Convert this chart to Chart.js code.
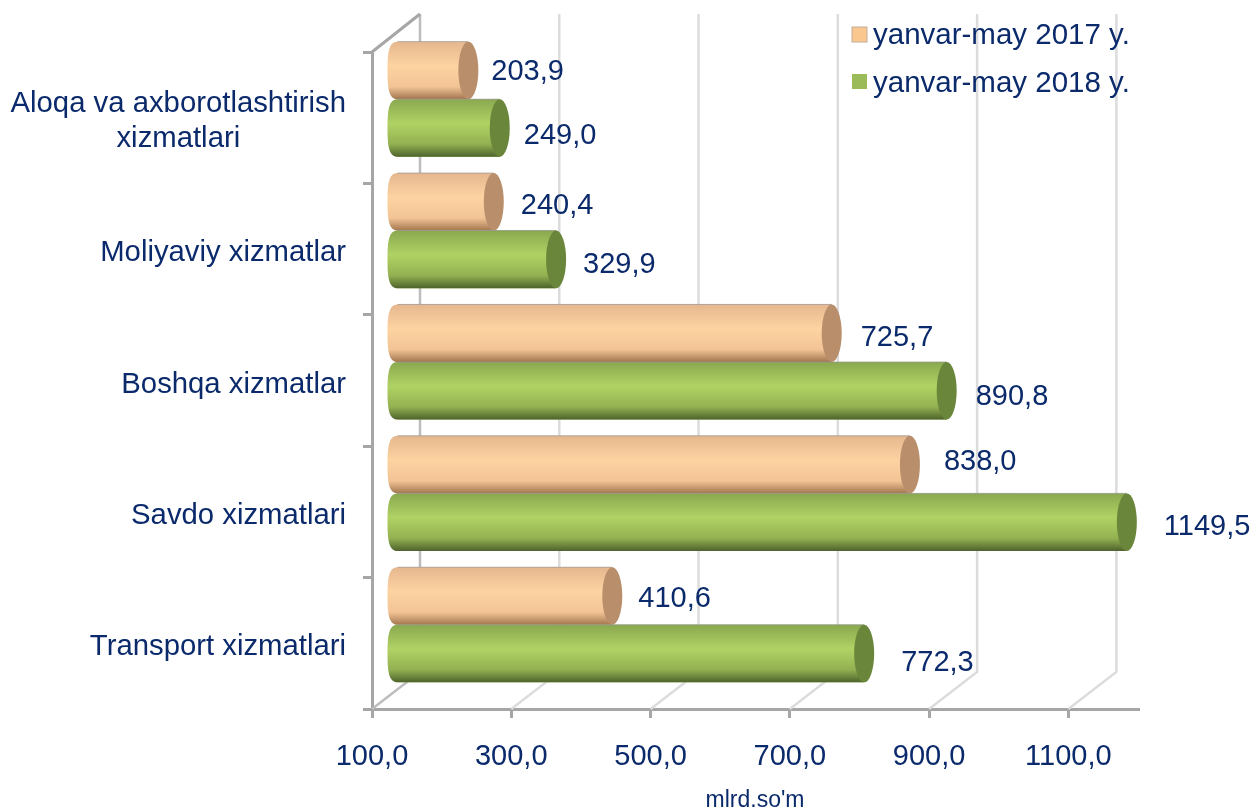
<!DOCTYPE html>
<html>
<head>
<meta charset="utf-8">
<title>Xizmatlar</title>
<script src="https://cdn.jsdelivr.net/npm/chart.js@4/dist/chart.umd.min.js"></script>
<style>
  html, body { margin: 0; padding: 0; background: #fff; }
  canvas { display: block; }
</style>
</head>
<body>
<canvas id="chart" width="1254" height="812"></canvas>
<script>
const categories = [
  ["Aloqa va axborotlashtirish", "xizmatlari             "],
  "Moliyaviy xizmatlar",
  "Boshqa xizmatlar",
  "Savdo xizmatlari",
  "Transport xizmatlari"
];
const seriesNames = ["yanvar-may 2017 y.", "yanvar-may 2018 y."];
const values2017 = [203.9, 240.4, 725.7, 838.0, 410.6];
const values2018 = [249.0, 329.9, 890.8, 1149.5, 772.3];
const xTickValues = [100, 300, 500, 700, 900, 1100];

// hand placed value labels in the original, so each one gets a small nudge
const nudge2017 = [[-6, 0], [-2, 2], [0, 3], [5, -5], [-3, 1]];
const nudge2018 = [[-5, 6], [-2, 4], [0, 4], [8, 3], [8, 7]];

const textColor = "#0b2a6b";
const axisColor = "#a6a6a6";
const depthX = 48, depthY = -37;   // fake 3D floor depth
const capRx = 10;

const looks = [
  { flat: "#fac78e", cap: "#b98f6b", stops: ["#e6b78e", "#fdd3a2", "#f3c496", "#a3764f"], nudge: nudge2017 },
  { flat: "#9bbb59", cap: "#6a863b", stops: ["#8aa84f", "#b0d264", "#93b151", "#4e632c"], nudge: nudge2018 }
];

function fmt(v) { return Number(v).toFixed(1).replace(".", ","); }

const cylinders = {
  id: "cylinders",
  beforeDatasetsDraw(chart) {
    const c = chart.ctx, x = chart.scales.x, area = chart.chartArea;
    const topY = area.top + depthY - 1;
    c.save();
    // back wall lines going up from each tick
    x.ticks.forEach((t, i) => {
      const px = x.getPixelForValue(t.value);
      c.beginPath();
      c.moveTo(px, area.bottom);
      c.lineTo(px + depthX, area.bottom + depthY);
      c.lineTo(px + depthX, topY);
      c.lineWidth = 2.5;
      c.strokeStyle = i === 0 ? "#bdbdbd" : "#dcdcdc";
      c.stroke();
    });
    c.beginPath();
    c.moveTo(area.left, area.top);
    c.lineTo(area.left + depthX, topY);
    c.lineWidth = 3;
    c.strokeStyle = axisColor;
    c.stroke();
    c.restore();

    // bars sit halfway into the depth
    c.save();
    c.translate(depthX / 2, depthY / 2);
  },
  afterDatasetsDraw(chart) {
    const c = chart.ctx;
    chart.data.datasets.forEach((ds, d) => {
      const look = looks[d];
      chart.getDatasetMeta(d).data.forEach(el => {
        const h = el.height;
        const top = el.y - h / 2, bottom = el.y + h / 2;
        const left = el.base - capRx;
        const g = c.createLinearGradient(0, top, 0, bottom);
        g.addColorStop(0, look.stops[0]);
        g.addColorStop(0.42, look.stops[1]);
        g.addColorStop(0.78, look.stops[2]);
        g.addColorStop(1, look.stops[3]);
        c.beginPath();
        c.moveTo(el.base, top);
        c.lineTo(el.x, top);
        c.lineTo(el.x, bottom);
        c.lineTo(el.base, bottom);
        // left end is fuller than a true ellipse
        c.bezierCurveTo(left + 1, bottom, left, el.y + h * 0.3, left, el.y);
        c.bezierCurveTo(left, el.y - h * 0.3, left + 1, top, el.base, top);
        c.closePath();
        c.fillStyle = g;
        c.fill();
        c.beginPath();
        c.moveTo(el.base, top);
        c.lineTo(el.x, top);
        c.lineWidth = 1;
        c.strokeStyle = "rgba(150,150,150,0.7)";
        c.stroke();
        c.beginPath();
        c.ellipse(el.x, el.y, capRx, h / 2, 0, 0, Math.PI * 2);
        c.fillStyle = look.cap;
        c.fill();
      });
    });
    c.restore();

    // value labels
    c.save();
    c.font = "29px 'Liberation Sans'";
    c.fillStyle = textColor;
    c.textAlign = "left";
    c.textBaseline = "middle";
    chart.data.datasets.forEach((ds, d) => {
      chart.getDatasetMeta(d).data.forEach((el, i) => {
        const n = looks[d].nudge[i];
        c.fillText(fmt(ds.data[i]), el.x + depthX / 2 + capRx + 19 + n[0], el.y + depthY / 2 + 2 + n[1]);
      });
    });
    c.restore();

    // legend
    c.save();
    c.font = "29.5px 'Liberation Sans'";
    c.textBaseline = "middle";
    seriesNames.forEach((name, i) => {
      const y = 36 + i * 48;
      c.fillStyle = looks[i].flat;
      c.fillRect(852, y - 9 - i, 15, 15);
      if (i === 0) {
        c.lineWidth = 1;
        c.strokeStyle = "#bfae9c";
        c.strokeRect(852, y - 9, 15, 15);
      }
      c.fillStyle = textColor;
      c.fillText(name, 873, y);
    });
    c.restore();
  }
};

Chart.defaults.font.family = "'Liberation Sans', Arial, sans-serif";

new Chart(document.getElementById("chart"), {
  type: "bar",
  data: {
    labels: categories,
    datasets: seriesNames.map((name, i) => ({
      label: name,
      data: i === 0 ? values2017 : values2018,
      base: 100,
      backgroundColor: looks[i].flat,
      borderWidth: 0,
      categoryPercentage: 0.876,
      barPercentage: 1
    }))
  },
  options: {
    indexAxis: "y",
    responsive: false,
    animation: false,
    events: [],
    layout: { padding: { top: 52, right: 116, left: 0, bottom: 0 } },
    plugins: {
      legend: { display: false },
      tooltip: { enabled: false }
    },
    scales: {
      x: {
        min: 100,
        max: 1200,
        afterFit(scale) { scale.height = 103; },
        afterBuildTicks(scale) { scale.ticks = xTickValues.map(v => ({ value: v })); },
        border: { color: axisColor, width: 3 },
        grid: { drawOnChartArea: false, color: axisColor, lineWidth: 3, tickLength: 9 },
        ticks: {
          autoSkip: false,
          maxRotation: 0,
          padding: 22,
          color: textColor,
          font: { size: 29 },
          callback: v => fmt(v)
        },
        title: {
          display: true,
          text: "mlrd.so'm",
          color: textColor,
          font: { size: 23, lineHeight: 1 },
          padding: 0
        }
      },
      y: {
        afterFit(scale) { scale.width = 372; },
        border: { color: axisColor, width: 3 },
        grid: { drawOnChartArea: false, color: axisColor, lineWidth: 3, tickLength: 9 },
        ticks: {
          padding: 17,
          labelOffset: 4,
          color: textColor,
          font: { size: 29.3 }
        }
      }
    }
  },
  plugins: [cylinders]
});
</script>
</body>
</html>
